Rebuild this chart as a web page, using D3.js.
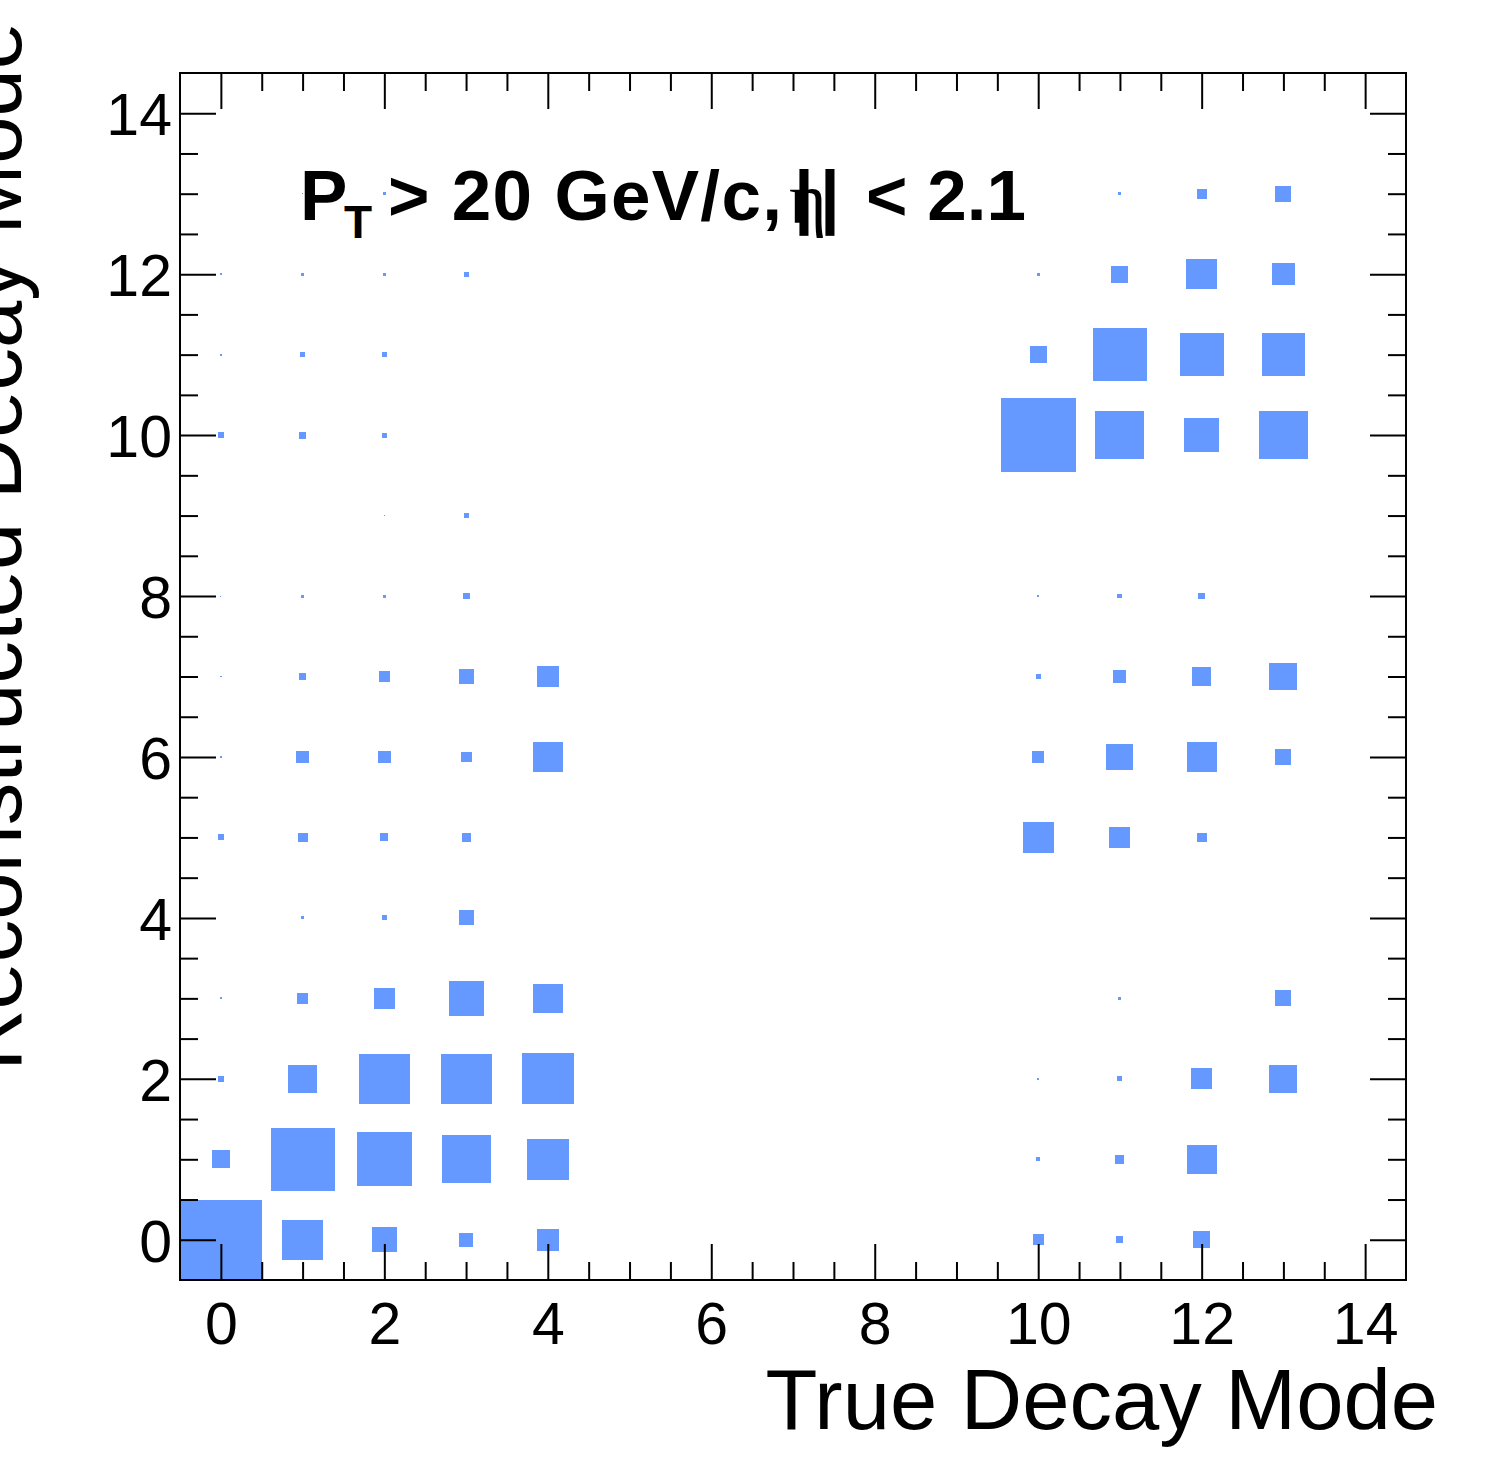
<!DOCTYPE html>
<html>
<head>
<meta charset="utf-8">
<script src="https://cdn.jsdelivr.net/npm/d3@7"></script>
<style>
  html, body { margin: 0; padding: 0; background: #ffffff; }
  svg { display: block; }
</style>
</head>
<body>
<div id="chart"></div>
<script>
// ---- data (relative box size: 1 = largest cell) ----
const cellTrue = [
  0,0,0,0,0,0,0,0,0,0,0,
  1,1,1,1,1,1,1,1,1,1,1,1,1,
  2,2,2,2,2,2,2,2,2,2,2,2,2,2,
  3,3,3,3,3,3,3,3,3,3,3,
  4,4,4,4,4,4,
  10,10,10,10,10,10,10,10,10,10,
  11,11,11,11,11,11,11,11,11,11,11,11,
  12,12,12,12,12,12,12,12,12,12,12,
  13,13,13,13,13,13,13,13
];
const cellReco = [
  0,1,2,3,5,6,7,8,10,11,12,
  0,1,2,3,4,5,6,7,8,10,11,12,13,
  0,1,2,3,4,5,6,7,8,9,10,11,12,13,
  0,1,2,3,4,5,6,7,8,9,12,
  0,1,2,3,6,7,
  0,1,2,5,6,7,8,10,11,12,
  0,1,2,3,5,6,7,8,10,11,12,13,
  0,1,2,5,6,7,8,10,11,12,13,
  2,3,6,7,10,11,12,13
];
const cellContent = [
  1.000,0.220,0.073,0.025,0.073,0.024,0.024,0.012,0.073,0.024,0.024,
  0.500,0.783,0.355,0.135,0.037,0.122,0.159,0.086,0.037,0.086,0.061,0.037,0.012,
  0.306,0.673,0.624,0.257,0.061,0.098,0.159,0.135,0.037,0.012,0.061,0.061,0.037,0.037,
  0.171,0.600,0.624,0.428,0.184,0.110,0.135,0.184,0.086,0.061,0.061,
  0.269,0.514,0.636,0.367,0.367,0.269,
  0.135,0.049,0.024,0.379,0.147,0.061,0.024,0.918,0.208,0.037,
  0.086,0.110,0.061,0.037,0.257,0.330,0.159,0.061,0.600,0.661,0.208,0.037,
  0.208,0.367,0.257,0.122,0.367,0.233,0.086,0.428,0.539,0.379,0.122,
  0.343,0.196,0.196,0.343,0.600,0.526,0.281,0.196
];
const majorTicks = [0, 2, 4, 6, 8, 10, 12, 14];
const axisDomain = [-0.5, 14.5];
const xTitle = "True Decay Mode";
const yTitle = "Reconstructed Decay Mode";

// ---- layout ----
const W = 1496, H = 1472;
const fL = 180, fR = 1406, fT = 73, fB = 1280;
const fill = "#6699ff";
const font = "'Liberation Sans', Arial, Helvetica, sans-serif";

const svg = d3.select("#chart").append("svg")
  .attr("width", W).attr("height", H)
  .attr("viewBox", `0 0 ${W} ${H}`);
svg.append("rect").attr("width", W).attr("height", H).attr("fill", "#fff");

const x = d3.scaleLinear().domain(axisDomain).range([fL, fR]);
const y = d3.scaleLinear().domain(axisDomain).range([fB, fT]);
const binW = x(1) - x(0);
const binH = y(0) - y(1);
const size = d3.scaleLinear().domain([0, 1]).range([0, 1]);

const cells = cellTrue.map((t, i) => ({ t, r: cellReco[i], v: cellContent[i] }));

svg.append("g").selectAll("rect").data(cells).join("rect")
  .attr("x", d => x(d.t) - Math.max(1, size(d.v) * binW) / 2)
  .attr("y", d => y(d.r) - Math.max(1, size(d.v) * binH) / 2)
  .attr("width", d => Math.max(1, size(d.v) * binW))
  .attr("height", d => Math.max(1, size(d.v) * binH))
  .attr("fill", fill)
  .attr("shape-rendering", "crispEdges");

// ---- axes ----
const minorTicks = d3.range(-0.5, 14.5, 0.5).filter(v => v > -0.5 && !majorTicks.includes(v));
const tickFont = 59;

function styleAxis(g) {
  g.select(".domain").remove();
  g.selectAll("line").attr("stroke", "#000").attr("stroke-width", 2);
  g.attr("font-family", font).attr("font-size", tickFont);
  g.selectAll("text").attr("fill", "#000");
}

// bottom
svg.append("g").attr("transform", `translate(0,${fB})`)
  .call(d3.axisBottom(x).tickValues(majorTicks).tickSize(-36).tickPadding(22).tickFormat(d3.format("d")))
  .call(styleAxis);
svg.append("g").attr("transform", `translate(0,${fB})`)
  .call(d3.axisBottom(x).tickValues(minorTicks).tickSize(-18).tickFormat(""))
  .call(styleAxis);
// top
svg.append("g").attr("transform", `translate(0,${fT})`)
  .call(d3.axisTop(x).tickValues(majorTicks).tickSize(-36).tickFormat(""))
  .call(styleAxis);
svg.append("g").attr("transform", `translate(0,${fT})`)
  .call(d3.axisTop(x).tickValues(minorTicks).tickSize(-18).tickFormat(""))
  .call(styleAxis);
// left
const leftG = svg.append("g").attr("transform", `translate(${fL},0)`)
  .call(d3.axisLeft(y).tickValues(majorTicks).tickSize(-36).tickPadding(8).tickFormat(d3.format("d")))
  .call(styleAxis);
leftG.selectAll("text").attr("dy", "0.36em");
svg.append("g").attr("transform", `translate(${fL},0)`)
  .call(d3.axisLeft(y).tickValues(minorTicks).tickSize(-18).tickFormat(""))
  .call(styleAxis);
// right
svg.append("g").attr("transform", `translate(${fR},0)`)
  .call(d3.axisRight(y).tickValues(majorTicks).tickSize(-36).tickFormat(""))
  .call(styleAxis);
svg.append("g").attr("transform", `translate(${fR},0)`)
  .call(d3.axisRight(y).tickValues(minorTicks).tickSize(-18).tickFormat(""))
  .call(styleAxis);

// frame
svg.append("rect")
  .attr("x", fL).attr("y", fT).attr("width", fR - fL).attr("height", fB - fT)
  .attr("fill", "none").attr("stroke", "#000").attr("stroke-width", 2);

// ---- titles ----
svg.append("text")
  .attr("x", 1438).attr("y", 1429)
  .attr("text-anchor", "end")
  .attr("font-family", font).attr("font-size", 85)
  .text(xTitle);

svg.append("text")
  .attr("transform", "translate(21,22) rotate(-90)")
  .attr("text-anchor", "end")
  .attr("font-family", font).attr("font-size", 85)
  .text(yTitle);

// ---- annotation ----
const ann = svg.append("g").attr("font-family", font).attr("font-weight", "bold").attr("fill", "#000");
ann.append("text").attr("x", 300).attr("y", 220).attr("font-size", 71).text("P");
ann.append("text").attr("x", 344).attr("y", 238).attr("font-size", 46).text("T");
ann.append("text").attr("x", 388).attr("y", 220).attr("font-size", 71)
  .attr("letter-spacing", 1.3).text("> 20 GeV/c,");
ann.append("text").attr("x", 789).attr("y", 223).attr("font-size", 72)
  .attr("font-weight", "normal").attr("font-family", "'Liberation Serif', 'DejaVu Serif', serif").text("η");
ann.append("text").attr("x", 804).attr("y", 220).attr("font-size", 71).attr("text-anchor", "middle").text("|");
ann.append("text").attr("x", 830).attr("y", 220).attr("font-size", 71).attr("text-anchor", "middle").text("|");
ann.append("text").attr("x", 866).attr("y", 220).attr("font-size", 71).text("< 2.1");
</script>
</body>
</html>
